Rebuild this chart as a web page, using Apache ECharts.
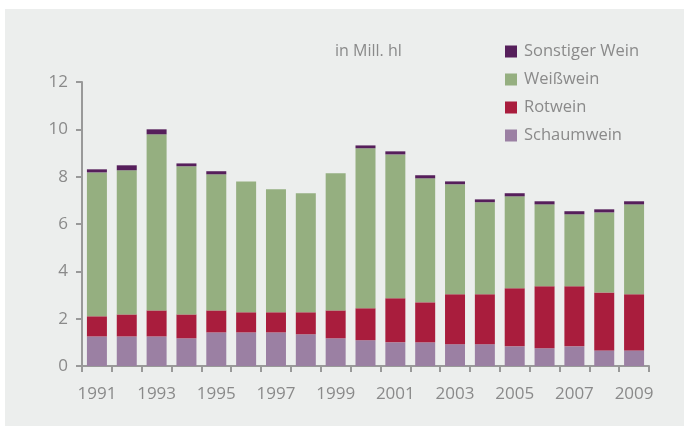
<!DOCTYPE html>
<html>
<head>
<meta charset="utf-8">
<script src="https://cdn.jsdelivr.net/npm/echarts@6/dist/echarts.min.js"></script>
<style>
html,body{margin:0;padding:0;background:#ffffff;}
#panel{position:absolute;left:5px;top:9px;width:679px;height:417px;background:#eceeed;}
#chart{position:absolute;left:0;top:0;width:690px;height:426px;}
</style>
</head>
<body>
<div id="panel"></div>
<div id="chart"></div>
<script>
const years = ['1991','1992','1993','1994','1995','1996','1997','1998','1999','2000','2001','2002','2003','2004','2005','2006','2007','2008','2009'];
const schaumwein = [1.25,1.25,1.25,1.17,1.42,1.42,1.42,1.34,1.17,1.09,1.00,1.00,0.92,0.92,0.83,0.75,0.83,0.66,0.66];
const rotwein    = [0.85,0.93,1.10,1.01,0.93,0.85,0.85,0.93,1.18,1.35,1.86,1.69,2.11,2.11,2.45,2.62,2.54,2.45,2.37];
const weisswein  = [6.08,6.09,7.44,6.26,5.75,5.53,5.20,5.03,5.79,6.76,6.08,5.24,4.65,3.89,3.89,3.46,3.04,3.38,3.80];
const sonstiger  = [0.13,0.21,0.21,0.12,0.13,0,0,0,0,0.12,0.13,0.13,0.12,0.12,0.13,0.13,0.13,0.13,0.13];
const yTicks = [0,2,4,6,8,10,12];
const unitLabel = 'in Mill. hl';

const textColor = '#8a8a8a';
const font = 'Open Sans';
const chart = echarts.init(document.getElementById('chart'), null, {renderer:'canvas'});
const mk = (name, data, color) => ({
  name, type:'bar', stack:'total', data, barCategoryGap:'33%',
  itemStyle:{color}, emphasis:{disabled:true}
});
chart.setOption({
  backgroundColor:'transparent',
  animation:false,
  title:{text:unitLabel,left:330,top:38,textStyle:{color:textColor,fontFamily:font,fontSize:16,fontWeight:'normal'}},
  legend:{
    left:500, top:38, orient:'vertical', icon:'rect', itemWidth:12, itemHeight:12, itemGap:11,
    data:['Sonstiger Wein','Weißwein','Rotwein','Schaumwein'],
    textStyle:{color:textColor,fontFamily:font,fontSize:16.5,padding:[0,0,0,2]}
  },
  grid:{left:82,right:41,top:82,bottom:60},
  xAxis:{
    type:'category', data:years,
    axisLine:{lineStyle:{color:'#999999',width:2}},
    axisTick:{show:true,interval:0,length:6,lineStyle:{color:'#999999',width:2}},
    axisLabel:{interval:1,color:textColor,fontFamily:font,fontSize:17,margin:20}
  },
  yAxis:{
    type:'value', min:yTicks[0], max:yTicks[yTicks.length-1], interval:2,
    splitLine:{show:false},
    axisLine:{show:true,lineStyle:{color:'#999999',width:2}},
    axisTick:{show:true,length:6,lineStyle:{color:'#999999',width:2}},
    axisLabel:{color:textColor,fontFamily:font,fontSize:17,margin:14}
  },
  series:[
    mk('Schaumwein',schaumwein,'#9b80a3'),
    mk('Rotwein',rotwein,'#a91d3d'),
    mk('Weißwein',weisswein,'#95af80'),
    mk('Sonstiger Wein',sonstiger,'#561f5b')
  ]
});
</script>
</body>
</html>
